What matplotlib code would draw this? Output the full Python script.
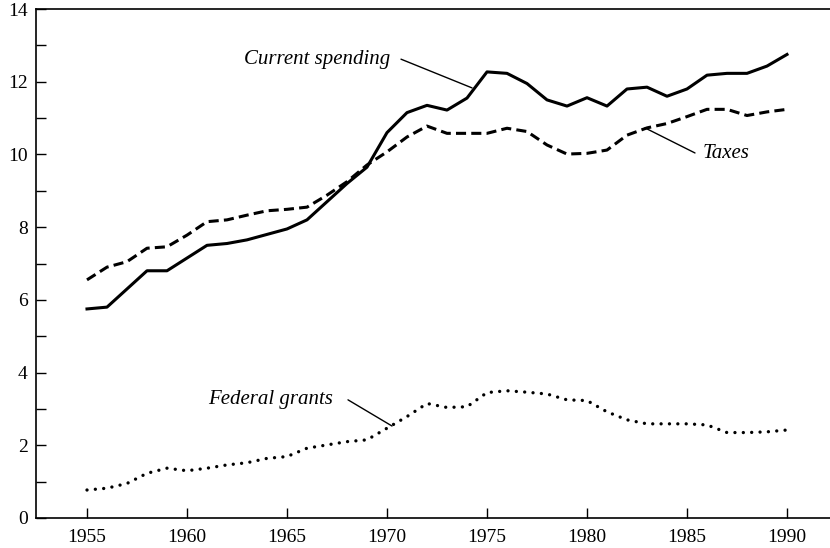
#!/usr/bin/env python3
import matplotlib
matplotlib.use("Agg")
import matplotlib.pyplot as plt
from matplotlib.ticker import MultipleLocator

# State and local government, percent of GNP
years = list(range(1955, 1991))

current_spending = [5.75, 5.8, 6.3, 6.8, 6.8, 7.15, 7.5, 7.55, 7.65, 7.8,
                    7.95, 8.2, 8.7, 9.2, 9.65, 10.6, 11.15, 11.35, 11.22, 11.55,
                    12.27, 12.23, 11.95, 11.5, 11.33, 11.56, 11.33, 11.8, 11.85, 11.6,
                    11.8, 12.18, 12.23, 12.23, 12.43, 12.75]

taxes = [6.55, 6.9, 7.05, 7.42, 7.46, 7.78, 8.15, 8.2, 8.33, 8.45,
         8.49, 8.55, 8.88, 9.25, 9.71, 10.07, 10.48, 10.78, 10.58, 10.58,
         10.58, 10.72, 10.63, 10.26, 10.01, 10.03, 10.12, 10.53, 10.73, 10.85,
         11.04, 11.24, 11.24, 11.07, 11.17, 11.24]

federal_grants = [0.77, 0.82, 0.95, 1.23, 1.37, 1.3, 1.37, 1.46, 1.52, 1.64,
                  1.69, 1.92, 2.01, 2.1, 2.15, 2.47, 2.79, 3.15, 3.04, 3.06,
                  3.45, 3.5, 3.46, 3.41, 3.25, 3.23, 2.92, 2.7, 2.59, 2.59,
                  2.59, 2.56, 2.35, 2.35, 2.37, 2.42]

x_ticks = [1955, 1960, 1965, 1970, 1975, 1980, 1985, 1990]
y_ticks = [0, 2, 4, 6, 8, 10, 12, 14]

# series labels: (text, text anchor, leader start, leader end)
labels = [
    ("Current spending", (1970.15, 12.6), "right", (1970.7, 12.62), (1974.25, 11.83)),
    ("Taxes", (1985.8, 10.02), "left", (1982.9, 10.73), (1985.4, 10.04)),
    ("Federal grants", (1967.3, 3.25), "right", (1968.05, 3.25), (1970.25, 2.53)),
]

SERIF = ["Liberation Serif", "DejaVu Serif"]


def draw(ax) -> None:
    ax.plot(years, current_spending, color="black", lw=2.2, solid_joinstyle="round")
    ax.plot(years, taxes, color="black", lw=2.2, linestyle=(0, (3.3, 1.7)))
    ax.plot(years, federal_grants, color="black", lw=2.4,
            linestyle=(0, (0.01, 2.5)), dash_capstyle="round")

    # labels with leader lines
    arrow = dict(arrowstyle="-", color="black", lw=1.0, shrinkA=0, shrinkB=0)
    for text, pos, ha, start, end in labels:
        ax.text(pos[0], pos[1], text, ha=ha, va="center", fontsize=15,
                style="italic", family=SERIF, color="black")
        ax.annotate("", xy=end, xytext=start, arrowprops=arrow)


def style_axes(ax) -> None:
    ax.set_xlim(1952.45, 1992.15)
    ax.set_ylim(0, 14)
    ax.set_xticks(x_ticks)
    ax.set_yticks(y_ticks)
    ax.yaxis.set_minor_locator(MultipleLocator(1))
    ax.tick_params(axis="both", which="both", direction="in", length=7,
                   width=1.0, colors="black", labelsize=14,
                   labelfontfamily="Liberation Serif")
    ax.tick_params(axis="x", pad=8)
    ax.tick_params(axis="y", pad=6)
    ax.spines["right"].set_visible(False)
    for side in ("left", "top", "bottom"):
        ax.spines[side].set_linewidth(1.2)


def main() -> None:
    fig = plt.figure(figsize=(8.3, 5.48), dpi=100)
    ax = fig.add_axes([36 / 830, 1 - 518 / 548, 1 - 36 / 830, (518 - 9) / 548])
    draw(ax)
    style_axes(ax)
    fig.savefig("out.png", dpi=100)
    plt.close(fig)


if __name__ == "__main__":
    main()
